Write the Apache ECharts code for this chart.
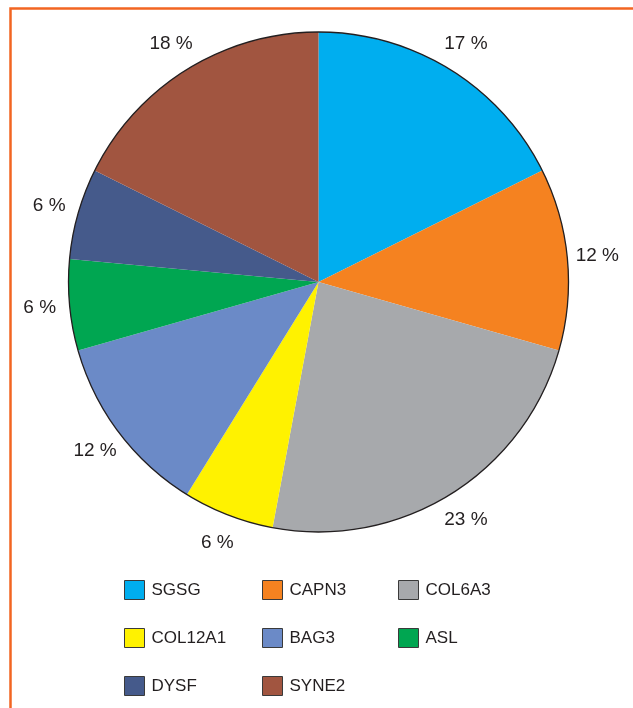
<!DOCTYPE html>
<html>
<head>
<meta charset="utf-8">
<script src="https://cdn.jsdelivr.net/npm/echarts@6/dist/echarts.min.js"></script>
<style>
  html, body { margin: 0; padding: 0; background: #fff; }
  #map { width: 633px; height: 708px; }
</style>
</head>
<body>
<div id="map"></div>
<script>
// genes, clockwise from 12 o'clock
const genes = ['SGSG', 'CAPN3', 'COL6A3', 'COL12A1', 'BAG3', 'ASL', 'DYSF', 'SYNE2'];
// slice sizes (cases per gene)
const cases = [3, 2, 4, 1, 2, 1, 1, 3];
// percentage text printed next to each slice
const pctLabels = ['17 %', '12 %', '23 %', '6 %', '12 %', '6 %', '6 %', '18 %'];
const colors = ['#00aeef', '#f58220', '#a7a9ac', '#fff200', '#6b8ac7', '#00a651', '#455a8b', '#a15540'];

// legend columns
const col1 = ['SGSG', 'COL12A1', 'DYSF'];
const col2 = ['CAPN3', 'BAG3', 'SYNE2'];
const col3 = ['COL6A3', 'ASL'];

const font = 'Liberation Sans, Arial, sans-serif';
const center = [318.5, 282];

function legendCol(data, left) {
  return {
    data: data,
    orient: 'vertical',
    left: left,
    top: 580,
    padding: 0,
    itemWidth: 20,
    itemHeight: 19,
    itemGap: 28,
    icon: 'rect',
    selectedMode: false,
    itemStyle: { borderColor: '#3a3a3a', borderWidth: 1 },
    textStyle: { fontFamily: font, fontSize: 17, color: '#231f20', padding: [0, 0, 0, 2] }
  };
}

let option = {
  animation: false,
  color: colors,
  // orange frame, left and top only
  graphic: [{
    type: 'polyline',
    shape: { points: [[10.5, 708], [10.5, 8.5], [633, 8.5]] },
    style: { stroke: '#f26522', lineWidth: 2.5, fill: null }
  }],
  legend: [legendCol(col1, 124), legendCol(col2, 262), legendCol(col3, 398)],
  series: [
    {
      name: 'genes',
      type: 'pie',
      center: center,
      radius: 250,
      startAngle: 90,
      clockwise: true,
      silent: true,
      label: { show: false },
      labelLine: { show: false },
      itemStyle: { borderWidth: 0 },
      data: genes.map((g, i) => ({ name: g, value: cases[i] }))
    },
    {
      // outer outline
      name: 'outline',
      type: 'pie',
      center: center,
      radius: 250,
      silent: true,
      label: { show: false },
      labelLine: { show: false },
      itemStyle: { color: 'rgba(0,0,0,0)', borderColor: '#231f20', borderWidth: 1.3 },
      data: [{ value: 1 }]
    },
    {
      // ring that only carries the percentage labels
      name: 'pct',
      type: 'pie',
      center: center,
      radius: [270, 284],
      startAngle: 90,
      clockwise: true,
      silent: true,
      itemStyle: { color: 'rgba(0,0,0,0)' },
      labelLine: { show: false },
      label: {
        show: true,
        position: 'inside',
        rotate: 0,
        formatter: p => pctLabels[p.dataIndex],
        fontFamily: font,
        fontSize: 19,
        color: '#231f20'
      },
      data: cases.map(v => ({ value: v }))
    }
  ]
};

let myChart = echarts.init(document.getElementById('map'));
myChart.setOption(option);
</script>
</body>
</html>
